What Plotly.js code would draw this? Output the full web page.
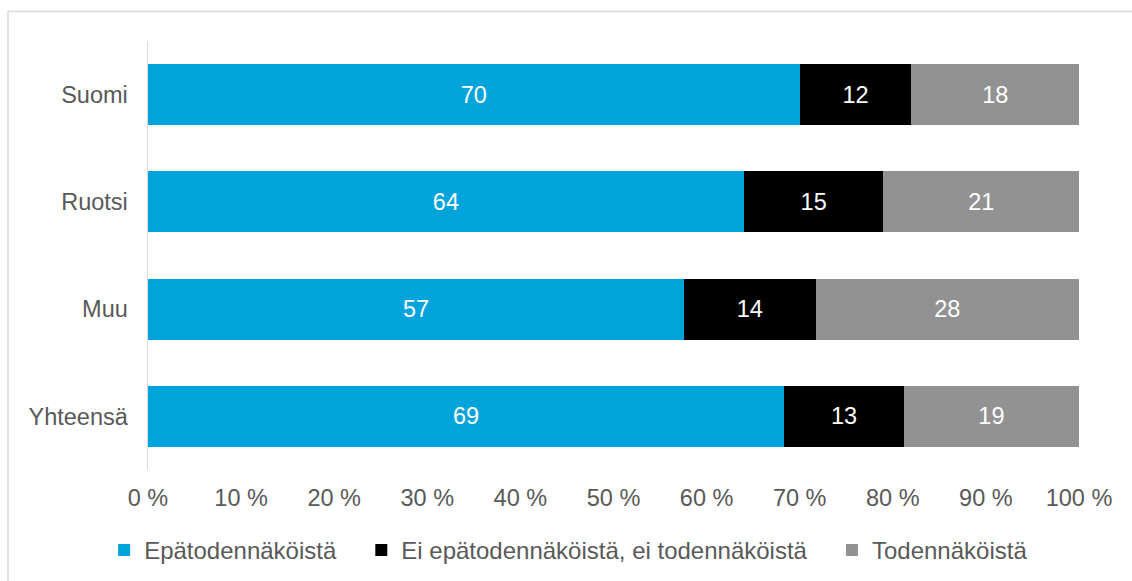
<!DOCTYPE html>
<html>
<head>
<meta charset="utf-8">
<script src="https://cdn.plot.ly/plotly-3.0.1.min.js"></script>
<style>html,body{margin:0;padding:0;background:#fff;}#chart{width:1132px;height:581px;}</style>
</head>
<body>
<div id="chart"></div>
<script>
const categories = ["Suomi", "Ruotsi", "Muu", "Yhteensä"];
const seriesNames = ["Epätodennäköistä", "Ei epätodennäköistä, ei todennäköistä", "Todennäköistä"];
const epatodennakoista = [70, 64, 57, 69];
const eiEiTodennakoista = [12, 15, 14, 13];
const todennakoista = [18, 21, 28, 19];
const xTicks = [0, 10, 20, 30, 40, 50, 60, 70, 80, 90, 100];

const colors = ["#00A3DA", "#000000", "#929292"];
const values = [epatodennakoista, eiEiTodennakoista, todennakoista];
const FONT = "Liberation Sans, Arial, sans-serif";
const FS = 23.5;
const PAD = "\u00A0\u00A0\u00A0";

const traces = values.map((v, i) => ({
  type: "bar",
  orientation: "h",
  name: seriesNames[i] + (i < 2 ? PAD : ""),
  y: categories,
  x: v,
  text: v.map(String),
  textposition: "inside",
  insidetextanchor: "middle",
  textangle: 0,
  constraintext: "none",
  textfont: {family: FONT, size: FS, color: "#ffffff"},
  marker: {color: colors[i], line: {width: 0}},
  hoverinfo: "skip"
}));

const layout = {
  width: 1132, height: 581,
  margin: {l: 148, r: 53, t: 41, b: 111, autoexpand: false},
  paper_bgcolor: "#ffffff",
  plot_bgcolor: "#ffffff",
  barmode: "stack",
  barnorm: "percent",
  bargap: 0.43,
  font: {family: FONT, size: FS, color: "#595959"},
  xaxis: {
    range: [0, 100],
    tickvals: xTicks,
    ticktext: xTicks.map(t => t + " %"),
    showgrid: false, zeroline: false, showline: false,
    ticks: "", ticklabelstandoff: 11,
    tickfont: {family: FONT, size: FS, color: "#595959"},
    fixedrange: true
  },
  yaxis: {
    categoryorder: "array",
    categoryarray: categories,
    autorange: "reversed",
    showgrid: false, zeroline: false,
    showline: true, linecolor: "#D9D9D9", linewidth: 1.5,
    ticks: "", ticklabelstandoff: 14,
    tickfont: {family: FONT, size: FS, color: "#595959"},
    fixedrange: true
  },
  legend: {
    orientation: "h",
    x: -0.0471, xanchor: "left",
    y: -0.135, yanchor: "top",
    font: {family: FONT, size: 24, color: "#595959"},
    traceorder: "normal",
    itemclick: false, itemdoubleclick: false
  },
  shapes: [{
    type: "rect", xref: "paper", yref: "paper",
    x0: (8 - 148) / 931, x1: 1.2,
    y0: -0.5, y1: 1 + (41 - 11.5) / 429,
    line: {color: "#D9D9D9", width: 1.5},
    fillcolor: "rgba(0,0,0,0)",
    layer: "below"
  }]
};

Plotly.newPlot("chart", traces, layout, {displayModeBar: false, staticPlot: true});
</script>
</body>
</html>
